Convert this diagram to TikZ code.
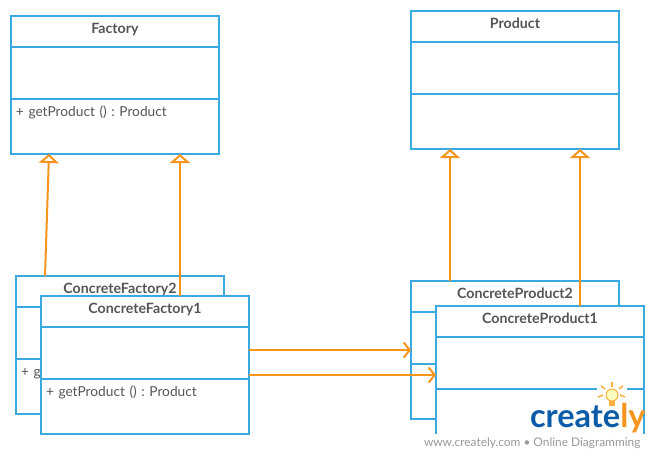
\documentclass[tikz,border=0pt]{standalone}
\usepackage{fontspec}
\setmainfont{Lato}
\usetikzlibrary{arrows.meta, positioning}
\definecolor{cblue}{HTML}{39A9E0}
\definecolor{corange}{HTML}{F7941E}
\definecolor{ctext}{HTML}{555555}
\definecolor{clogo}{HTML}{0B5CA8}
\definecolor{cbulb}{HTML}{FBB03B}
\tikzset{
  every picture/.style={x=1pt, y=-1pt, line width=2pt, font=\frenchspacing\fontsize{13.7}{16}\selectfont, text=ctext},
  part/.style={draw=cblue, fill=white, minimum width=208pt, inner sep=0pt, outer sep=0pt},
  head/.style={part, minimum height=31pt, text height=10pt, text depth=7pt, font=\frenchspacing\fontsize{14.2}{16}\selectfont\bfseries},
  attr/.style={part, minimum height=52pt},
  oper/.style={part, minimum height=55pt, align=left, text width=198pt, text height=11pt, text depth=32pt},
  inherit/.style={draw=corange, {Triangle[open, length=9pt, width=20pt, fill=white]}-},
  assoc/.style={draw=corange, -{Straight Barb[length=6pt, width=15pt]}},
  ray/.style={draw=cbulb, line width=1.5pt},
}
\begin{document}
\begin{tikzpicture}
  \useasboundingbox (0,0) rectangle (655,455);
  % top classes
  \foreach \n/\t/\x/\y/\o in {fa/Factory/115/31.5/{+ getProduct () : Product}, pr/Product/515/26.5/{}} {
    \node[head] (\n) at (\x,\y) {\t};
    \node[attr, below=0pt of \n] (\n a) {};
    \node[oper, below=0pt of \n a] (\n o) {\o};
  }
  % concrete classes, second ones lie behind
  \foreach \n/\t/\x/\y/\o in {cfb/ConcreteFactory2/120/291.5/{+ getProduct () : Product}, cfa/ConcreteFactory1/145/311.5/{+ getProduct () : Product}, cpb/ConcreteProduct2/515/296.5/{}, cpa/ConcreteProduct1/540/321.5/{}} {
    \node[head] (\n) at (\x,\y) {\t};
    \node[attr, below=0pt of \n] (\n a) {};
    \node[oper, below=0pt of \n a] (\n o) {\o};
  }
  % generalisation
  \draw[inherit] ([xshift=-66pt]fao.south) -- ([xshift=-75pt]cfb.north);
  \draw[inherit] ([xshift=65pt]fao.south) -- ([xshift=35pt]cfa.north);
  \draw[inherit] ([xshift=-65pt]pro.south) -- ([xshift=-65pt]cpb.north);
  \draw[inherit] ([xshift=65pt]pro.south) -- ([xshift=40pt]cpa.north);
  % use
  \draw[assoc] ([yshift=3pt]cfaa.east) -- ([yshift=-12pt]cpba.west);
  \draw[assoc] ([yshift=4pt]cfaa.south east) -- ([yshift=-12pt]cpaa.west);
  % logo
  \fill[white] (425,434) rectangle (655,455);
  \fill[white] (597,380) rectangle (627,404);
  \foreach \a/\b/\c/\d in {612/382/612/387, 601/386/605/389, 623/386/619/389, 598/397/603/395, 625/397/620/395} {
    \draw[ray] (\a,\b) -- (\c,\d);
  }
  \draw[cbulb, line width=1pt, fill=yellow!25] (612,395) circle (6pt);
  \fill[cbulb] (609,401) rectangle (615,406);
  \node[font=\fontsize{32.5}{33}\selectfont\bfseries, text=clogo, anchor=base west, inner sep=0pt] (lg) at (529,427) {create\textcolor{corange}{ly}};
  \node[font=\frenchspacing\fontsize{11.9}{13}\selectfont, text=ctext!60, anchor=base west, inner sep=0pt] (url) at (423,446) {www.creately.com • Online Diagramming};
\end{tikzpicture}
\end{document}
